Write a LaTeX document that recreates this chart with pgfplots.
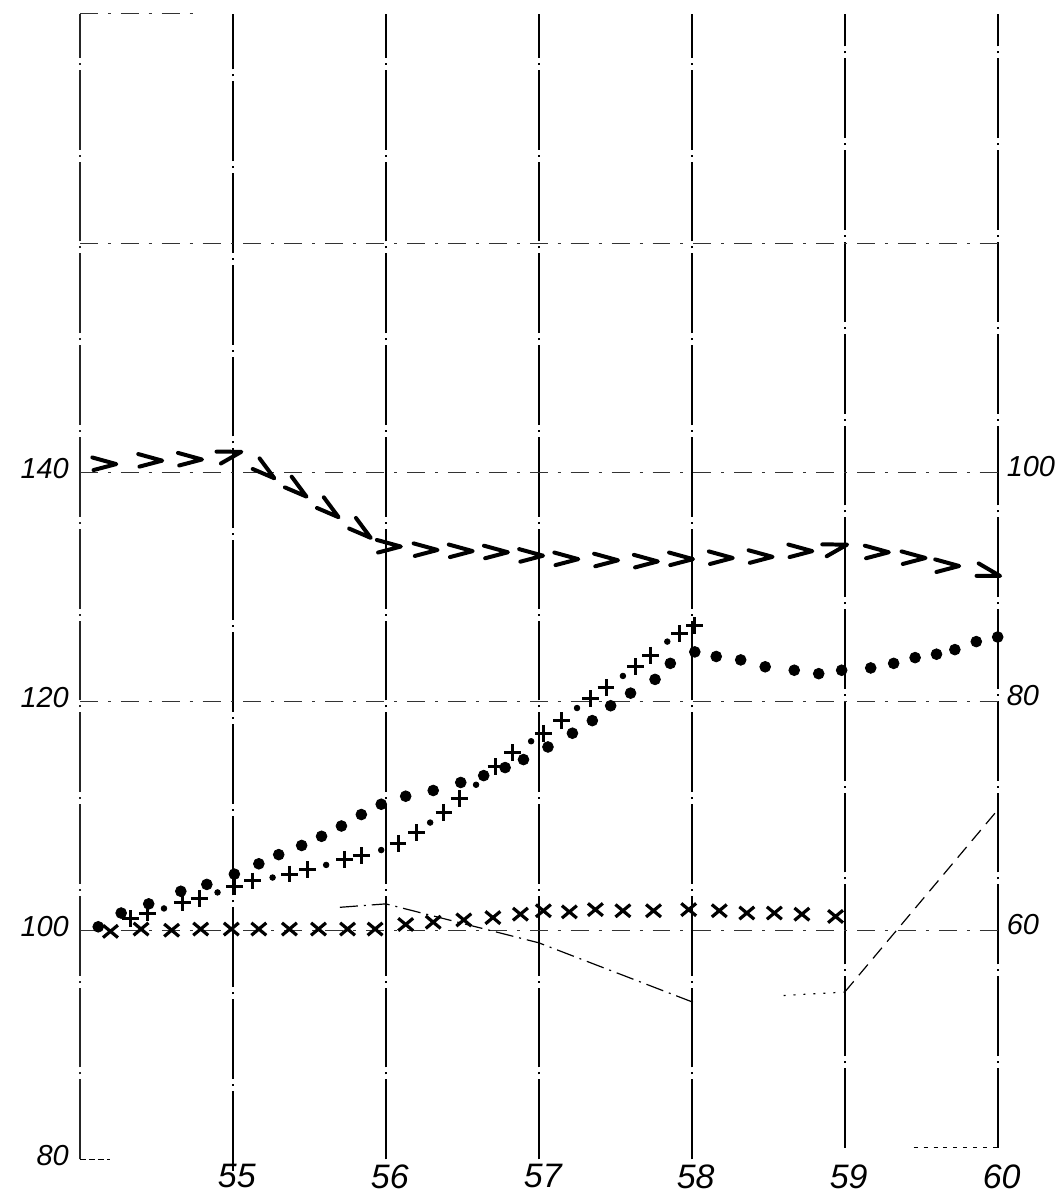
\documentclass[border=0pt]{standalone}
\usepackage{pgfplots}
\pgfplotsset{compat=1.18}
\usepackage{fontspec}
\setmainfont{Liberation Sans}

\pgfdeclareplotmark{chev}{%
  \pgfpathmoveto{\pgfpoint{-\pgfplotmarksize}{0.55\pgfplotmarksize}}%
  \pgfpathlineto{\pgfpoint{\pgfplotmarksize}{0pt}}%
  \pgfpathlineto{\pgfpoint{-0.9\pgfplotmarksize}{-0.5\pgfplotmarksize}}%
  \pgfusepathqstroke}

\pgfplotsset{
  vgrid/.style={black, line width=1pt, dash pattern=on 40pt off 2.5pt on 1pt off 2.5pt},
  hgrid/.style={black!80, line width=0.5pt, dash pattern=on 9pt off 5pt on 1.5pt off 5pt},
}

\begin{document}
\begin{tikzpicture}
\begin{axis}[
  scale only axis, width=460pt, height=574pt,
  xmin=54, xmax=60, ymin=80, ymax=180,
  axis line style={draw=none},
  xtick={55,56,57,58,59,60},
  ytick={80,100,120,140},
  major tick length=0pt,
  clip=false,
  /pgf/number format/assume math mode=true,
  xticklabel style={font=\fontsize{17}{17}\selectfont\itshape, xshift=2pt, yshift=1pt},
  yticklabel style={font=\fontsize{14.5}{14.5}\selectfont\itshape, xshift=-2pt, yshift=2pt},
]
% bounding box of the picture
\path (rel axis cs:-0.087,-0.0287) rectangle (rel axis cs:1.0652,1.0122);

% vertical grid lines
\addplot[vgrid, black!85, line width=0.8pt] coordinates {(54,80) (54,180)};
\addplot[vgrid] coordinates {(55,79) (55,180)};
\addplot[vgrid] coordinates {(56,80) (56,180)};
\addplot[vgrid] coordinates {(57,80) (57,180)};
\addplot[vgrid] coordinates {(58,80) (58,180)};
\addplot[vgrid] coordinates {(59,81) (59,180)};
\addplot[vgrid] coordinates {(60,81) (60,180)};
% horizontal grid lines
\addplot[hgrid] coordinates {(54,160) (60,160)};
\addplot[hgrid] coordinates {(54,140) (60,140)};
\addplot[hgrid] coordinates {(54,120) (60,120)};
\addplot[hgrid] coordinates {(54,100) (60,100)};
\addplot[hgrid] coordinates {(54,180) (54.8,180)};
\addplot[black, line width=0.5pt, dash pattern=on 3pt off 1.5pt] coordinates {(54,80) (54.2,80)};
\addplot[black, line width=0.5pt, dash pattern=on 2pt off 3pt] coordinates {(59.45,81) (60,81)};

% chevron series
\addplot[only marks, mark=chev, mark size=6pt, line width=2pt, line cap=round, line join=round,
  mark options={solid}] coordinates {
(54.16,140.7) (54.46,141.0) (54.72,141.1) (56.02,133.5)
(56.26,133.2) (56.49,133.1) (56.72,133.0) (56.95,132.7) (57.18,132.4) (57.44,132.3)
(57.70,132.2) (57.93,132.4) (58.19,132.5) (58.45,132.6) (58.71,133.1)
(59.21,133.0) (59.45,132.5) (59.67,131.8)
};
\addplot[only marks, mark=chev, mark size=6pt, line width=2pt, line cap=round, line join=round,
  mark options={solid, rotate=15}] coordinates {
(54.98,141.5) (58.94,133.4)
};
\addplot[only marks, mark=chev, mark size=6pt, line width=2pt, line cap=round, line join=round,
  mark options={solid, rotate=-15}] coordinates {
(59.94,131.2)
};
\addplot[only marks, mark=chev, mark size=6pt, line width=2pt, line cap=round, line join=round,
  mark options={solid, rotate=-38}] coordinates {
(55.21,140.1) (55.42,138.5) (55.63,136.7) (55.84,134.9)
};

% big dots series
\addplot[only marks, mark=*, mark size=2.7pt, black] coordinates {
(54.12,100.3) (54.27,101.5) (54.45,102.3) (54.66,103.4) (54.83,104.0)
(55.01,104.9) (55.17,105.8) (55.30,106.6) (55.45,107.4) (55.58,108.2)
(55.71,109.1) (55.84,110.1) (55.97,111.0) (56.13,111.7) (56.31,112.2)
(56.49,112.9) (56.64,113.5) (56.78,114.2) (56.90,114.9) (57.06,116.0)
(57.22,117.2) (57.35,118.3) (57.47,119.6) (57.60,120.7) (57.76,121.9)
(57.86,123.3) (58.02,124.3) (58.16,123.9) (58.32,123.6) (58.48,123.0)
(58.67,122.7) (58.83,122.4) (58.98,122.7) (59.17,122.9) (59.32,123.3)
(59.46,123.8) (59.60,124.1) (59.72,124.5) (59.86,125.2) (60.00,125.6)
};

% plus series (+ and small dots)
\addplot[only marks, mark=+, mark size=4.2pt, line width=1.5pt, black] coordinates {
(54.33,101.0) (54.44,101.5) (54.67,102.4) (54.78,102.8) (55.01,103.8)
(55.13,104.3) (55.37,104.9) (55.49,105.3) (55.73,106.2) (55.84,106.5)
(56.08,107.6) (56.20,108.5) (56.38,110.3) (56.48,111.5) (56.72,114.3)
(56.83,115.5) (57.03,117.2) (57.15,118.3) (57.34,120.2) (57.44,121.2)
(57.63,123.0) (57.73,124.0) (57.92,125.9) (58.02,126.6)
};
\addplot[only marks, mark=*, mark size=1.4pt, black] coordinates {
(54.55,101.9) (54.90,103.3) (55.26,104.6) (55.61,105.7) (55.97,107.0)
(56.29,109.4) (56.59,112.7) (56.95,116.5) (57.25,119.4) (57.55,122.2)
(57.84,125.2)
};

% cross series
\addplot[only marks, mark=x, mark size=4.4pt, line width=1.6pt, black, mark options={xscale=1.2}] coordinates {
(54.20,99.9) (54.40,100.1) (54.60,100.0) (54.79,100.1) (54.99,100.1)
(55.17,100.1) (55.37,100.1) (55.56,100.1) (55.75,100.1) (55.93,100.1)
(56.13,100.5) (56.31,100.7) (56.51,100.9) (56.70,101.1) (56.88,101.4)
(57.03,101.7) (57.20,101.6) (57.37,101.8) (57.55,101.7) (57.75,101.7)
(57.98,101.8) (58.18,101.7) (58.36,101.5) (58.54,101.5) (58.72,101.4)
(58.94,101.2)
};
\end{axis}

\begin{axis}[
  scale only axis, width=460pt, height=574pt,
  xmin=54, xmax=60, ymin=40, ymax=140,
  axis x line=none,
  axis y line*=right,
  axis line style={draw=none},
  ytick={60,80,100},
  major tick length=0pt,
  clip=false,
  /pgf/number format/assume math mode=true,
  yticklabel style={font=\fontsize{14.5}{14.5}\selectfont\itshape, xshift=1pt, yshift=3pt},
]
\addplot[black, line width=0.6pt, dash pattern=on 9pt off 3pt on 1pt off 3pt] coordinates {
(55.7,62.0) (56.0,62.3) (57.0,58.9) (58.03,53.6)
};
\addplot[black, line width=0.6pt, dash pattern=on 1pt off 4pt] coordinates {
(58.6,54.3) (59.0,54.6)
};
\addplot[black, line width=0.6pt, dash pattern=on 7pt off 4pt] coordinates {
(59.0,54.6) (60.0,70.5)
};
\end{axis}
\end{tikzpicture}
\end{document}
